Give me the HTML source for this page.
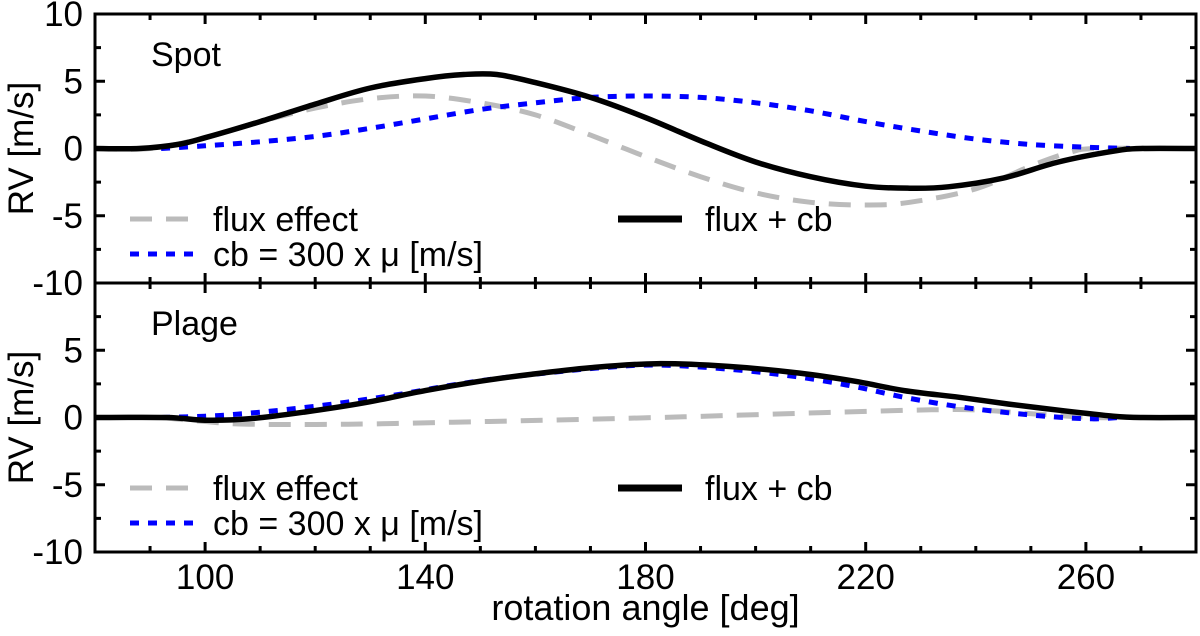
<!DOCTYPE html>
<html><head><meta charset="utf-8"><style>
html,body{margin:0;padding:0;background:#fff;}
svg text{font-family:"Liberation Sans",sans-serif;fill:#000;}
</style></head><body>
<svg id="chart" width="1200" height="631" viewBox="0 0 1200 631" xmlns="http://www.w3.org/2000/svg">
<g id="axes"></g>
<g id="series"></g>
<g id="labels"></g>
</svg>
<script>
const xTicks = [100, 140, 180, 220, 260];
const yTicks = [10, 5, 0, -5, -10];
const panelTitles = ["Spot", "Plage"];
// Spot panel
const spotFluxX = [80,90,100,110,120,130,140,150,160,170,180,190,200,210,220,228,240,250,257,262,280];
const spotFluxY = [0,0,0.8,2.0,3.0,3.7,3.9,3.4,2.5,1.0,-0.6,-2.1,-3.3,-4.0,-4.2,-4.0,-3.0,-1.3,-0.3,0,0];
const spotCbX = [92,100,110,120,130,140,150,160,170,180,190,200,210,220,230,240,250,260,268];
const spotCbY = [0,0.2,0.5,0.9,1.5,2.2,2.9,3.4,3.8,3.9,3.8,3.4,2.8,2.0,1.3,0.7,0.3,0.1,0];
const spotSumX = [80,88,95,100,110,120,130,140,147,153,160,170,180,191,200,210,220,228,235,245,255,265,270,280];
const spotSumY = [0,0,0.3,0.8,2.0,3.3,4.5,5.2,5.5,5.5,4.9,3.8,2.3,0.4,-1.0,-2.1,-2.8,-2.95,-2.85,-2.2,-1.0,-0.2,0,0];
// Plage panel
const plageFluxX = [92,100,108,126,145,162,187,213,232,241,251,261,265];
const plageFluxY = [0,-0.3,-0.5,-0.5,-0.35,-0.2,0.05,0.37,0.57,0.55,0.25,0,0];
const plageCbX = [92,100,106,115,125,135,144,153,163,172,182,195,208,218,227,237,246,254,261,266];
const plageCbY = [0,0.1,0.25,0.6,1.1,1.7,2.35,2.9,3.35,3.7,3.9,3.6,3.0,2.3,1.5,0.8,0.35,0.05,-0.1,0];
const plageSumX = [80,93,100,108,118,129,140,150,159,170,182,195,208,218,227,237,246,256,265,270,280];
const plageSumY = [0,0,-0.2,-0.1,0.4,1.1,2.0,2.7,3.2,3.7,4.0,3.8,3.3,2.7,2.0,1.5,1.0,0.5,0.1,0,0];

const NS = "http://www.w3.org/2000/svg";
const X0 = 95, X1 = 1196;
const panels = [{top:14, bottom:283}, {top:283, bottom:552}];
function xs(d){ return X0 + (d - 80) / 200 * (X1 - X0); }
function ys(p, v){ const P = panels[p]; return P.top + (10 - v) / 20 * (P.bottom - P.top); }
function mk(tag, attrs, parent){ const e = document.createElementNS(NS, tag); for (const k in attrs) e.setAttribute(k, attrs[k]); parent.appendChild(e); return e; }
const axes = document.getElementById('axes');
const series = document.getElementById('series');
const labels = document.getElementById('labels');
const FS = 35;

for (let p = 0; p < 2; p++) {
  const P = panels[p];
  for (let d = 80; d <= 280; d += 10) {
    const major = xTicks.includes(d);
    const L = major ? 10 : 6;
    const t1 = mk('line', {x1:xs(d), x2:xs(d), y1:P.bottom, y2:P.bottom - L, stroke:'#000', 'stroke-width':3}, axes);
    
    
    const t2 = mk('line', {x1:xs(d), x2:xs(d), y1:P.top, y2:P.top + L, stroke:'#000', 'stroke-width':3}, axes);
    
    
  }
  for (let v = -10; v <= 10; v += 2.5) {
    const major = (v % 5 === 0);
    const L = major ? 10 : 6;
    const t1 = mk('line', {x1:X0, x2:X0 + L, y1:ys(p, v), y2:ys(p, v), stroke:'#000', 'stroke-width':3}, axes);
    
    
    const t2 = mk('line', {x1:X1, x2:X1 - L, y1:ys(p, v), y2:ys(p, v), stroke:'#000', 'stroke-width':3}, axes);
    
    
  }
  const fr = mk('rect', {x:X0, y:P.top, width:X1 - X0, height:P.bottom - P.top, fill:'none', stroke:'#000', 'stroke-width':3}, axes);
  
  
  yTicks.forEach(v => {
    if (p === 1 && v === 10) return;
    const t = mk('text', {x:83, y:ys(p, v) + 12, 'text-anchor':'end', 'font-size':FS}, labels);
    t.textContent = String(v);
    
    
  });
  const cy = (P.top + P.bottom) / 2;
  const yt = mk('text', {x:0, y:0, transform:`translate(33,${cy}) rotate(-90)`, 'text-anchor':'middle', 'font-size':FS}, labels);
  yt.textContent = 'RV [m/s]';
  
  
  const pt = mk('text', {x:151, y:P.top + 52, 'font-size':34}, labels);
  pt.textContent = panelTitles[p];
  
  
}

function path(xa, ya, p){
  const pts = xa.map((x, i) => [xs(x), ys(p, ya[i])]);
  let d = 'M' + pts[0][0].toFixed(1) + ',' + pts[0][1].toFixed(1);
  for (let i = 0; i < pts.length - 1; i++) {
    const p0 = pts[Math.max(0, i - 1)], p1 = pts[i], p2 = pts[i + 1], p3 = pts[Math.min(pts.length - 1, i + 2)];
    const c1 = [p1[0] + (p2[0] - p0[0]) / 6, p1[1] + (p2[1] - p0[1]) / 6];
    const c2 = [p2[0] - (p3[0] - p1[0]) / 6, p2[1] - (p3[1] - p1[1]) / 6];
    d += 'C' + c1.map(v => v.toFixed(1)).join(',') + ' ' + c2.map(v => v.toFixed(1)).join(',') + ' ' + p2.map(v => v.toFixed(1)).join(',');
  }
  return d;
}
const styles = {
  flux: {stroke:'#bbbbbb', 'stroke-width':5, 'stroke-dasharray':'22,14', fill:'none'},
  cb: {stroke:'#0000ff', 'stroke-width':5, 'stroke-dasharray':'9,9', fill:'none'},
  sum: {stroke:'#000', 'stroke-width':5.5, fill:'none', 'stroke-linejoin':'round'}
};
const sets = [
  [spotFluxX, spotFluxY, spotCbX, spotCbY, spotSumX, spotSumY],
  [plageFluxX, plageFluxY, plageCbX, plageCbY, plageSumX, plageSumY]
];
sets.forEach((s, p) => {
  const pre = p === 0 ? 'spot' : 'plage';
  const f = mk('path', Object.assign({d:path(s[0], s[1], p)}, styles.flux), series);
  
  
  const c = mk('path', Object.assign({d:path(s[2], s[3], p)}, styles.cb), series);
  
  
  const b = mk('path', Object.assign({d:path(s[4], s[5], p)}, styles.sum), series);
  
  
  const base = panels[p].top;
  const l1 = mk('line', Object.assign({x1:130, x2:198, y1:base + 205, y2:base + 205}, styles.flux), labels);
  
  
  const t1 = mk('text', {x:213, y:base + 217, 'font-size':34}, labels);
  t1.textContent = 'flux effect';
  
  
  const l2 = mk('line', Object.assign({x1:130, x2:195, y1:base + 240, y2:base + 240}, styles.cb), labels);
  
  
  const t2 = mk('text', {x:213, y:base + 252, 'font-size':34}, labels);
  t2.textContent = 'cb = 300 x \u03bc [m/s]';
  
  
  const l3 = mk('line', Object.assign({x1:618, x2:682, y1:base + 205, y2:base + 205}, styles.sum, {'stroke-width':7}), labels);
  
  
  const t3 = mk('text', {x:705, y:base + 217, 'font-size':34}, labels);
  t3.textContent = 'flux + cb';
  
  
});

xTicks.forEach(d => {
  const t = mk('text', {x:xs(d), y:589, 'text-anchor':'middle', 'font-size':FS}, labels);
  t.textContent = String(d);
  
  
});
const xt = mk('text', {x:xs(180), y:620, 'text-anchor':'middle', 'font-size':36}, labels);
xt.textContent = 'rotation angle [deg]';


</script>
</body></html>
